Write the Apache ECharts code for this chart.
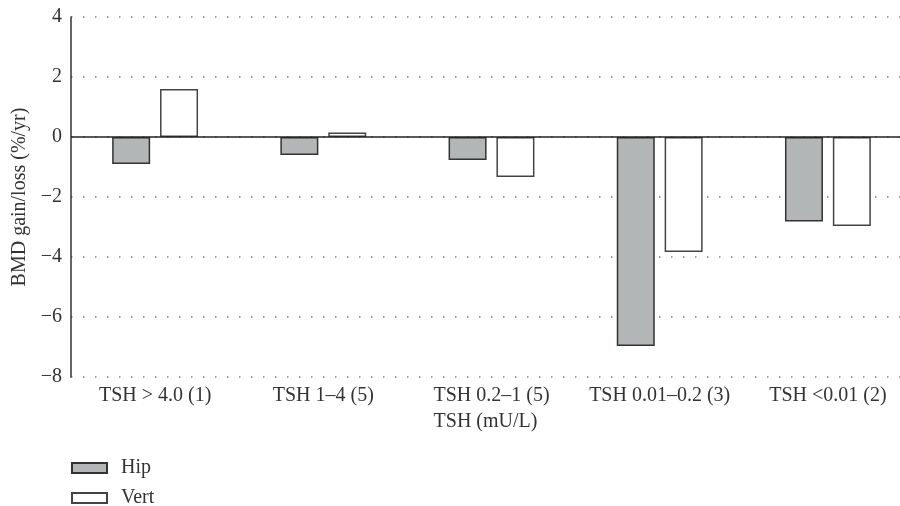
<!DOCTYPE html>
<html><head><meta charset="utf-8">
<script src="https://cdn.jsdelivr.net/npm/echarts@6/dist/echarts.min.js"></script>
<style>html,body{margin:0;padding:0;background:#fff;overflow:hidden}#c{width:912px;height:506px}</style>
</head><body><div id="c"></div>
<script>
const categories = ['TSH > 4.0 (1)', 'TSH 1–4 (5)', 'TSH 0.2–1 (5)', 'TSH 0.01–0.2 (3)', 'TSH <0.01 (2)'];
const hipValues = [-0.9, -0.6, -0.77, -6.97, -2.82];
const vertValues = [1.6, 0.15, -1.33, -3.83, -2.97];
const yTicks = [-8, -6, -4, -2, 0, 2, 4];

const font = 'Liberation Serif';
const fs = 20;
const txt = {fontFamily: font, fontSize: fs, color: '#333'};
const chart = echarts.init(document.getElementById('c'));
chart.setOption({
  animation: false,
  textStyle: {fontFamily: font},
  grid: {left: 71, right: 0, top: 17, bottom: 129},
  legend: [
    {orient: 'vertical', left: 71, top: 458, padding: 0, itemWidth: 35, itemHeight: 10, icon: 'rect',
     textStyle: Object.assign({padding: [0, 0, 0, 9]}, txt), data: ['Hip']},
    {orient: 'vertical', left: 71, top: 488, padding: 0, itemWidth: 35, itemHeight: 10, icon: 'rect',
     textStyle: Object.assign({padding: [0, 0, 0, 9]}, txt), data: ['Vert']}
  ],
  xAxis: {
    type: 'category', data: categories,
    name: 'TSH (mU/L)', nameLocation: 'middle', nameGap: 35,
    nameTextStyle: Object.assign({padding: [0, 12, 0, 0]}, txt),
    axisLine: {show: false}, axisTick: {show: false},
    axisLabel: Object.assign({margin: 9, interval: 0}, txt)
  },
  yAxis: {
    type: 'value', min: yTicks[0], max: yTicks[yTicks.length - 1], interval: 2,
    name: 'BMD gain/loss (%/yr)', nameLocation: 'middle', nameGap: 41,
    nameTextStyle: txt,
    axisLine: {show: true, lineStyle: {color: '#333', width: 1.5}},
    axisTick: {show: false},
    axisLabel: Object.assign({margin: 9, formatter: v => String(v).replace('-', '−')}, txt),
    splitLine: {show: true, lineStyle: {color: '#808080', width: 1.5, type: [1.5, 10.5]}}
  },
  series: [
    {
      name: 'Hip', type: 'bar', data: hipValues, barWidth: 38, barGap: '26%',
      itemStyle: {color: '#b3b6b6', borderColor: '#333', borderWidth: 1.5},
      markLine: {
        silent: true, symbol: 'none', label: {show: false},
        lineStyle: {color: '#222', width: 1.5, type: 'solid'},
        data: [{yAxis: 0}]
      }
    },
    {
      name: 'Vert', type: 'bar', data: vertValues, barWidth: 38,
      itemStyle: {color: '#ffffff', borderColor: '#444', borderWidth: 1.5}
    }
  ]
});
</script></body></html>
